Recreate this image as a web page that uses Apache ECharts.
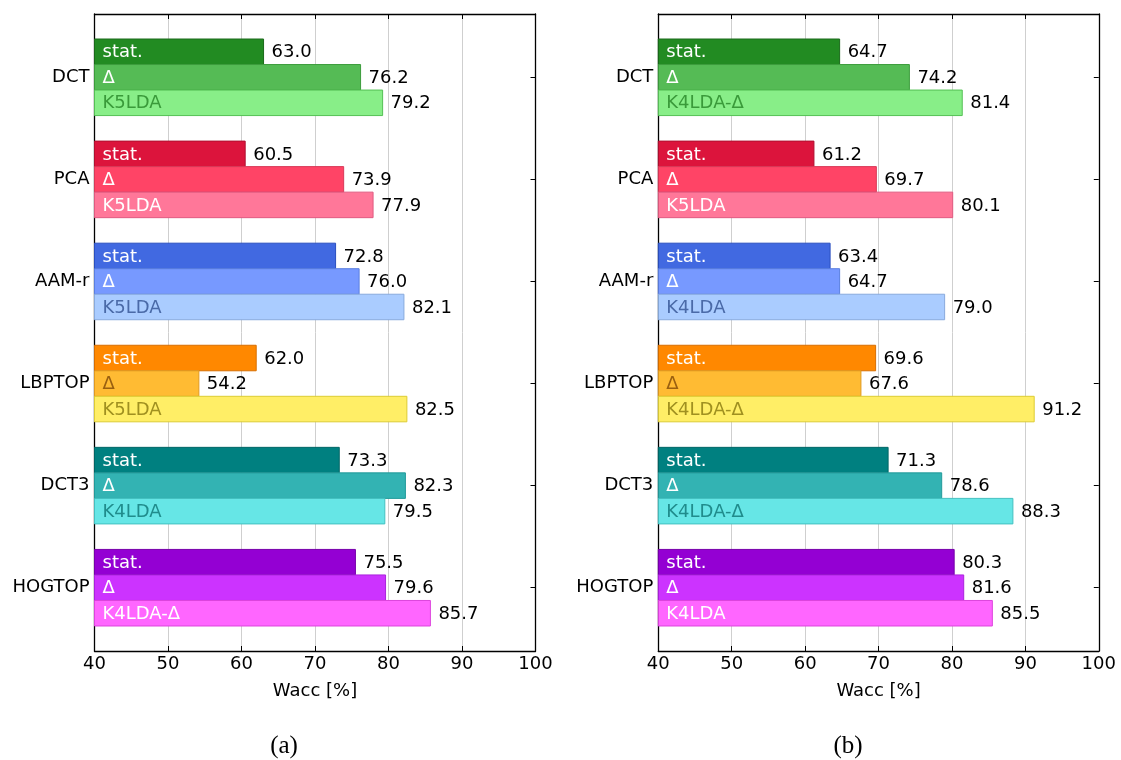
<!DOCTYPE html>
<html>
<head>
<meta charset="utf-8">
<script src="https://cdn.jsdelivr.net/npm/echarts@6/dist/echarts.min.js"></script>
<style>
html,body{margin:0;padding:0;background:#fff;}
#chart{width:1121px;height:760px;}
</style>
</head>
<body>
<div id="chart"></div>
<script>
// ---- data ----
const categories = ['DCT', 'PCA', 'AAM-r', 'LBPTOP', 'DCT3', 'HOGTOP'];
const statName = 'stat.';
const deltaName = 'Δ';
const xTicksMin = 40, xTicksMax = 100, xTickStep = 10;

const statA  = [63.0, 60.5, 72.8, 62.0, 73.3, 75.5];
const deltaA = [76.2, 73.9, 76.0, 54.2, 82.3, 79.6];
const bestA  = [79.2, 77.9, 82.1, 82.5, 79.5, 85.7];
const bestNamesA = ['K5LDA', 'K5LDA', 'K5LDA', 'K5LDA', 'K4LDA', 'K4LDA-Δ'];

const statB  = [64.7, 61.2, 63.4, 69.6, 71.3, 80.3];
const deltaB = [74.2, 69.7, 64.7, 67.6, 78.6, 81.6];
const bestB  = [81.4, 80.1, 79.0, 91.2, 88.3, 85.5];
const bestNamesB = ['K4LDA-Δ', 'K5LDA', 'K4LDA', 'K4LDA-Δ', 'K4LDA-Δ', 'K4LDA'];

const axisTitle = 'Wacc [%]';
const captions = ['(a)', '(b)'];

// ---- styles (per category: [stat, delta, best] -> [fill, edge, text]) ----
const palette = [
  [['#228b22', '#1a6a1a', '#ffffff'], ['#55bb55', '#3c9c3c', '#ffffff'], ['#88ee88', '#55c055', '#3a9a3a']],
  [['#dc143c', '#b01030', '#ffffff'], ['#ff4466', '#d83a58', '#ffffff'], ['#ff7799', '#e05a80', '#ffffff']],
  [['#4169e1', '#2a4fbf', '#ffffff'], ['#7799ff', '#5a7fe0', '#ffffff'], ['#aaccff', '#88aadd', '#4a6aa8']],
  [['#ff8800', '#d86e00', '#ffffff'], ['#ffbb33', '#e09a20', '#9a6010'], ['#ffee66', '#ddcc33', '#a09020']],
  [['#008080', '#006666', '#ffffff'], ['#33b3b3', '#229a9a', '#ffffff'], ['#66e6e6', '#44c0c0', '#208c8c']],
  [['#9400d3', '#7700aa', '#ffffff'], ['#cc33ff', '#aa22dd', '#ffffff'], ['#ff66ff', '#dd44dd', '#ffffff']]
];

const FONT = 'DejaVu Sans';
const FS = 18;
const BAR = 0.25;

function makeRender(level, names) {
  return function (params, api) {
    const i = api.value(1);
    const v = api.value(0);
    const c = i + (level - 1) * BAR;
    const a = api.coord([xTicksMin, c - BAR / 2]);
    const b = api.coord([v, c + BAR / 2]);
    const y0 = Math.min(a[1], b[1]);
    const h = Math.abs(b[1] - a[1]);
    const col = palette[i][level];
    return {
      type: 'group',
      children: [
        { type: 'rect', shape: { x: a[0], y: y0, width: b[0] - a[0], height: h },
          style: { fill: col[0], stroke: col[1], lineWidth: 1 } },
        { type: 'text', style: { text: names[i], x: a[0] + 8, y: y0 + h / 2 + 1, verticalAlign: 'middle', align: 'left',
          fill: col[2], fontSize: FS, fontFamily: FONT } },
        { type: 'text', style: { text: v.toFixed(1), x: b[0] + 8, y: y0 + h / 2 + 1, verticalAlign: 'middle', align: 'left',
          fill: '#000000', fontSize: FS, fontFamily: FONT } }
      ]
    };
  };
}

function toPairs(vals) { return vals.map((v, i) => [v, i]); }

const grids = [
  { left: 94.5, width: 441, top: 14, height: 637 },
  { left: 658.3, width: 440.5, top: 14, height: 637 }
];

const xAxes = [], yAxes = [], series = [];
const panels = [
  { stat: statA, delta: deltaA, best: bestA, names: bestNamesA },
  { stat: statB, delta: deltaB, best: bestB, names: bestNamesB }
];

panels.forEach((p, g) => {
  const lineStyle = { color: '#000', width: 1.3 };
  const tick = { show: true, inside: true, length: 5, lineStyle: { color: '#000', width: 1 } };
  xAxes.push({
    gridIndex: g, type: 'value', position: 'bottom', min: xTicksMin, max: xTicksMax, interval: xTickStep,
    axisLine: { show: true, onZero: false, lineStyle }, axisTick: tick,
    axisLabel: { show: true, color: '#000', fontSize: FS, fontFamily: FONT, margin: 4 },
    splitLine: { show: true, lineStyle: { color: '#cfcfcf', width: 1 } },
    name: axisTitle, nameLocation: 'middle', nameGap: 31,
    nameTextStyle: { color: '#000', fontSize: FS, fontFamily: FONT }
  });
  xAxes.push({
    gridIndex: g, type: 'value', position: 'top', min: xTicksMin, max: xTicksMax, interval: xTickStep,
    axisLine: { show: true, onZero: false, lineStyle }, axisTick: tick,
    axisLabel: { show: false }, splitLine: { show: false }
  });
  yAxes.push({
    gridIndex: g, type: 'value', position: 'left', inverse: true, min: -0.62, max: 5.62, minInterval: 1, maxInterval: 1,
    axisLine: { show: true, onZero: false, lineStyle }, axisTick: tick,
    axisLabel: { show: true, color: '#000', fontSize: FS, fontFamily: FONT, margin: 5,
      formatter: v => (Math.abs(v - Math.round(v)) < 1e-6 && categories[Math.round(v)] !== undefined) ? categories[Math.round(v)] : '' },
    splitLine: { show: false }
  });
  yAxes.push({
    gridIndex: g, type: 'value', position: 'right', inverse: true, min: -0.62, max: 5.62, minInterval: 1, maxInterval: 1,
    axisLine: { show: true, onZero: false, lineStyle }, axisTick: tick,
    axisLabel: { show: false }, splitLine: { show: false }
  });
  const xi = g * 2, yi = g * 2;
  const sets = [
    [p.stat, categories.map(() => statName)],
    [p.delta, categories.map(() => deltaName)],
    [p.best, p.names]
  ];
  sets.forEach((s, level) => {
    series.push({
      type: 'custom', xAxisIndex: xi, yAxisIndex: yi, clip: false,
      renderItem: makeRender(level, s[1]),
      encode: { x: 0, y: 1 },
      data: toPairs(s[0]),
      z: 2 + level
    });
  });
});

const chart = echarts.init(document.getElementById('chart'), null, { renderer: 'canvas' });
chart.setOption({
  animation: false,
  backgroundColor: '#ffffff',
  grid: grids,
  xAxis: xAxes,
  yAxis: yAxes,
  title: [
    { text: captions[0], left: 279, top: 729, textAlign: 'center',
      textStyle: { fontFamily: 'Liberation Serif', fontSize: 25, fontWeight: 'normal', color: '#000' } },
    { text: captions[1], left: 843, top: 729, textAlign: 'center',
      textStyle: { fontFamily: 'Liberation Serif', fontSize: 25, fontWeight: 'normal', color: '#000' } }
  ],
  series: series
});
</script>
</body>
</html>
